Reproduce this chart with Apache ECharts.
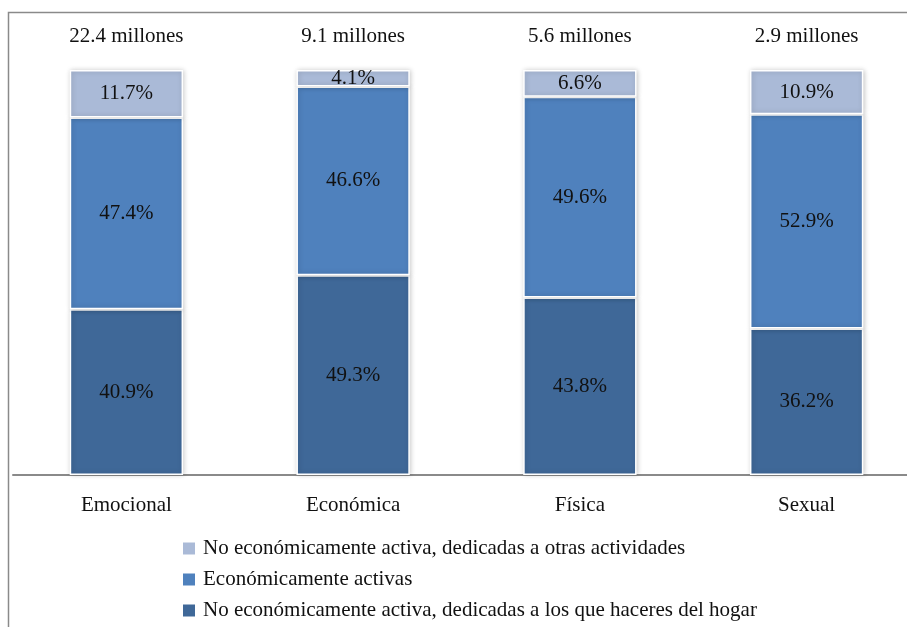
<!DOCTYPE html>
<html>
<head>
<meta charset="utf-8">
<script src="https://cdn.jsdelivr.net/npm/echarts@6/dist/echarts.min.js"></script>
<style>
  html, body { margin: 0; padding: 0; background: #fff; }
  #chart { width: 907px; height: 627px; }
</style>
</head>
<body>
<div id="chart"></div>
<script>
// Tipo de violencia y población total (millones)
const categories = ['Emocional', 'Económica', 'Física', 'Sexual'];
const totals = [22.4, 9.1, 5.6, 2.9];

// Distribución porcentual por condición de actividad
const seriesNames = [
  'No económicamente activa, dedicadas a los que haceres del hogar',
  'Económicamente activas',
  'No económicamente activa, dedicadas a otras actividades'
];
const hogar = [40.9, 49.3, 43.8, 36.2];
const activas = [47.4, 46.6, 49.6, 52.9];
const otras = [11.7, 4.1, 6.6, 10.9];

const colors = ['#3F6898', '#4F81BD', '#AABAD7'];
const fontFamily = '"Liberation Serif", "DejaVu Serif", serif';
const fontSize = 21;

const chart = echarts.init(document.getElementById('chart'), null, { renderer: 'canvas' });

const makeSeries = (name, data, color) => ({
  name: name,
  type: 'bar',
  stack: 'total',
  data: data,
  barWidth: '50%',
  itemStyle: {
    color: color,
    borderColor: '#ffffff',
    borderWidth: 1.5,
    shadowColor: 'rgba(0,0,0,0.22)',
    shadowBlur: 5,
    shadowOffsetX: 1
  },
  label: {
    show: true,
    position: 'inside',
    formatter: p => p.value.toFixed(1) + '%',
    color: '#111',
    fontFamily: fontFamily,
    fontSize: fontSize
  }
});

chart.setOption({
  animation: false,
  backgroundColor: '#ffffff',
  textStyle: { fontFamily: fontFamily },
  // the plot area runs past the right edge of the canvas
  grid: { left: 13, right: -13, top: 70, bottom: 152, containLabel: false, outerBoundsMode: 'none' },
  xAxis: [
    {
      type: 'category',
      data: categories,
      axisLine: { lineStyle: { color: '#8a8a8a', width: 2 } },
      axisTick: { show: false },
      axisLabel: { color: '#111', fontSize: fontSize, margin: 20, fontFamily: fontFamily }
    },
    {
      type: 'category',
      position: 'top',
      data: totals.map(v => v.toFixed(1) + ' millones'),
      axisLine: { show: false },
      axisTick: { show: false },
      axisLabel: { color: '#111', fontSize: fontSize, margin: 23, fontFamily: fontFamily }
    }
  ],
  yAxis: {
    type: 'value',
    min: 0,
    max: 100,
    show: false
  },
  legend: {
    orient: 'vertical',
    left: 176,
    top: 533,
    itemWidth: 14,
    itemHeight: 14,
    itemGap: 10,
    icon: 'rect',
    data: [seriesNames[2], seriesNames[1], seriesNames[0]],
    textStyle: { color: '#111', fontSize: fontSize, fontFamily: fontFamily, padding: [0, 0, 0, 2] }
  },
  graphic: [
    {
      type: 'polyline',
      shape: { points: [[8.5, 627], [8.5, 12.5], [907, 12.5]] },
      style: { stroke: '#8a8a8a', lineWidth: 1.5, fill: null },
      silent: true
    }
  ],
  series: [
    makeSeries(seriesNames[0], hogar, colors[0]),
    makeSeries(seriesNames[1], activas, colors[1]),
    makeSeries(seriesNames[2], otras, colors[2])
  ]
});
</script>
</body>
</html>
